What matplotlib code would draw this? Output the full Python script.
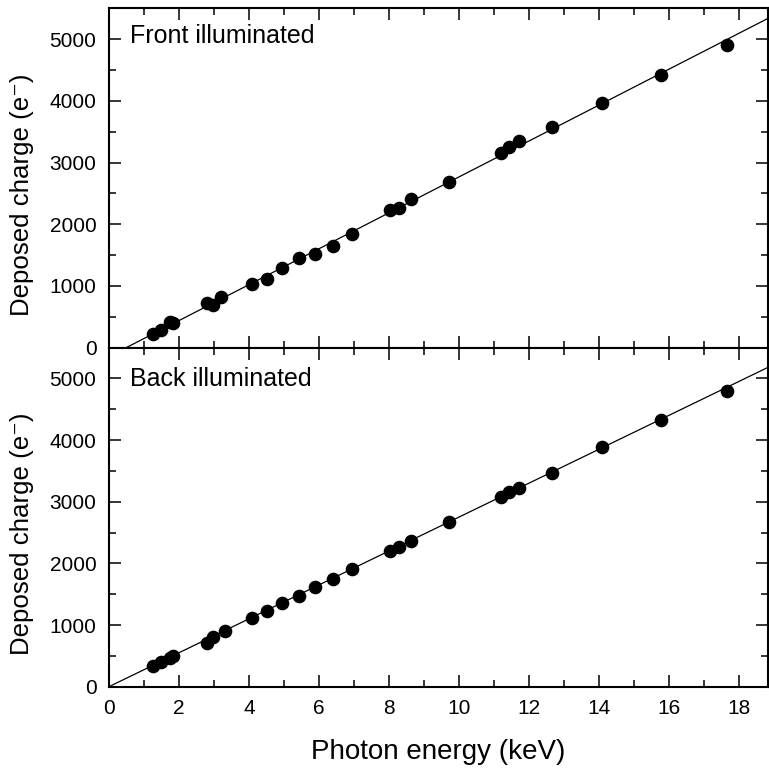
import numpy as np
import matplotlib
matplotlib.use("Agg")
import matplotlib.pyplot as plt
from matplotlib.ticker import MultipleLocator

plt.rcParams['font.family'] = ['Liberation Sans', 'DejaVu Sans']

# Photon energies (keV)
energy_front = [1.25, 1.49, 1.74, 1.82, 2.79, 2.96, 3.19, 4.10, 4.52, 4.95, 5.42, 5.90,
                6.41, 6.93, 8.04, 8.28, 8.63, 9.71, 11.20, 11.44, 11.71, 12.65, 14.09,
                15.76, 17.67]
charge_front = [217, 287, 421, 395, 720, 692, 817, 1027, 1108, 1297, 1459, 1519,
                1648, 1838, 2232, 2264, 2415, 2683, 3150, 3253, 3345, 3572, 3966,
                4414, 4906]

energy_back = [1.25, 1.49, 1.74, 1.84, 2.79, 2.96, 3.31, 4.10, 4.52, 4.95, 5.42, 5.90,
               6.41, 6.93, 8.04, 8.28, 8.63, 9.71, 11.20, 11.44, 11.71, 12.65, 14.09,
               15.76, 17.67]
charge_back = [336, 405, 470, 497, 703, 810, 903, 1118, 1232, 1351, 1475, 1621,
               1750, 1902, 2204, 2269, 2366, 2664, 3080, 3161, 3225, 3468, 3880,
               4328, 4797]

# Linear fit lines (slope e-/keV, intercept e-)
fit_front = (291.2, -145.6)
fit_back = (275.0, 0.0)

panel_titles = ["Front illuminated", "Back illuminated"]
xlim = (0, 18.83)
ylim = (0, 5500)

fig = plt.figure(figsize=(7.69, 7.68), dpi=100)
ax_top = fig.add_axes([0.1417, 0.5475, 0.9987 - 0.1417, 0.9891 - 0.5475])
ax_bot = fig.add_axes([0.1417, 0.1059, 0.9987 - 0.1417, 0.5475 - 0.1059])

datasets = [(ax_top, energy_front, charge_front, fit_front, panel_titles[0], 0.898),
            (ax_bot, energy_back, charge_back, fit_back, panel_titles[1], 0.888)]

for ax, ex, ch, fit, title, ty in datasets:
    xl = np.array(xlim)
    ax.plot(xl, fit[0] * xl + fit[1], color='black', lw=0.9, zorder=2)
    ax.plot(ex, ch, 'o', color='black', ms=8.8, zorder=3)
    ax.set_xlim(*xlim)
    ax.set_ylim(*ylim)
    ax.xaxis.set_major_locator(MultipleLocator(2))
    ax.xaxis.set_minor_locator(MultipleLocator(1))
    ax.yaxis.set_major_locator(MultipleLocator(1000))
    ax.yaxis.set_minor_locator(MultipleLocator(500))
    ax.tick_params(which='both', direction='in', top=True, right=True,
                   labelsize=15, width=1.1, pad=9)
    ax.tick_params(which='major', length=8.6)
    ax.tick_params(which='minor', length=5)
    for s in ax.spines.values():
        s.set_linewidth(1.5)
    ax.set_ylabel('Deposed charge (e\u207b)', fontsize=18.6)
    ax.yaxis.set_label_coords(-0.114, 0.45)
    ax.text(0.032, ty, title, transform=ax.transAxes, fontsize=18,
            ha='left', va='baseline')

ax_top.tick_params(labelbottom=False)
ax_bot.set_xlabel('Photon energy (keV)', fontsize=20, labelpad=15)

fig.savefig('out.png', dpi=100)
